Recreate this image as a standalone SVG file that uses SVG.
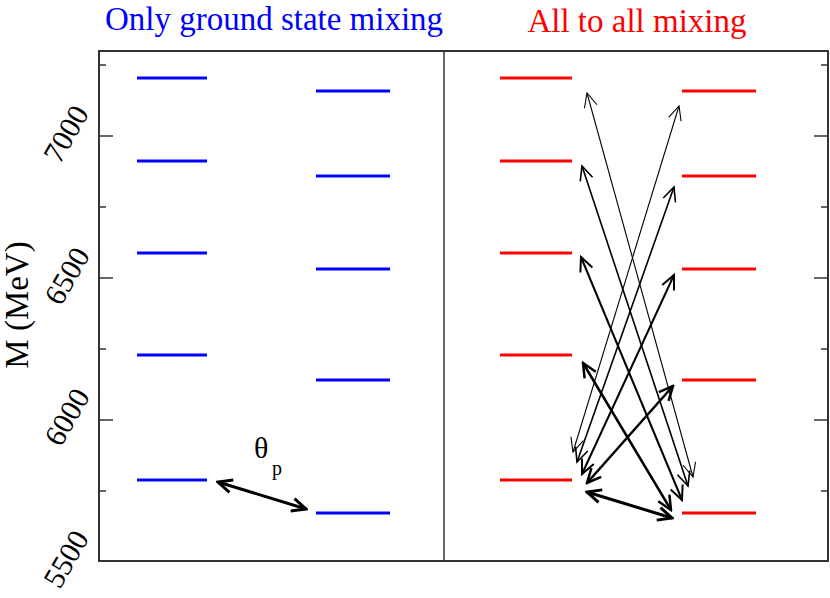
<svg xmlns="http://www.w3.org/2000/svg" width="830" height="598" viewBox="0 0 830 598">
<style>
.title{font-family:"Liberation Serif","Times New Roman",serif;font-size:33px;text-anchor:middle}
.tick{font-family:"Liberation Serif","Times New Roman",serif;font-size:30px;text-anchor:middle;fill:#000}
.frame{fill:none;stroke:#333;stroke-width:2}
.tk{stroke:#333;stroke-width:1.5}
.blue{stroke:#0000ff;stroke-width:3}
.red{stroke:#ff0000;stroke-width:3}
.arr{fill:none;stroke:#000}
</style>
<defs>
<marker id="h30" viewBox="-16 -9 18 18" markerWidth="18" markerHeight="18" refX="0" refY="0" markerUnits="userSpaceOnUse" orient="auto-start-reverse"><path d="M-14,-6.5 L0,0 L-14,6.5" fill="none" stroke="#000" stroke-width="3"/></marker>
<marker id="h25" viewBox="-16 -9 18 18" markerWidth="18" markerHeight="18" refX="0" refY="0" markerUnits="userSpaceOnUse" orient="auto-start-reverse"><path d="M-14,-6.5 L0,0 L-14,6.5" fill="none" stroke="#000" stroke-width="2.5"/></marker>
<marker id="h20" viewBox="-16 -9 18 18" markerWidth="18" markerHeight="18" refX="0" refY="0" markerUnits="userSpaceOnUse" orient="auto-start-reverse"><path d="M-14,-6.5 L0,0 L-14,6.5" fill="none" stroke="#000" stroke-width="2"/></marker>
<marker id="h16" viewBox="-16 -9 18 18" markerWidth="18" markerHeight="18" refX="0" refY="0" markerUnits="userSpaceOnUse" orient="auto-start-reverse"><path d="M-14,-6.5 L0,0 L-14,6.5" fill="none" stroke="#000" stroke-width="1.6"/></marker>
<marker id="h11" viewBox="-16 -9 18 18" markerWidth="18" markerHeight="18" refX="0" refY="0" markerUnits="userSpaceOnUse" orient="auto-start-reverse"><path d="M-14,-6.5 L0,0 L-14,6.5" fill="none" stroke="#000" stroke-width="1.1"/></marker>
</defs>
<rect width="830" height="598" fill="#fff"/>

<g id="titles">
<text class="title" x="274" y="30" fill="#0000ff">Only ground state mixing</text>
<text class="title" x="637" y="32" fill="#ff0000">All to all mixing</text>
</g>

<g id="axes">
<rect class="frame" x="99" y="51" width="729" height="510"/>
<line x1="444" y1="51" x2="444" y2="561" stroke="#333" stroke-width="1.5"/>
<g class="tk">
<line x1="99" y1="65" x2="106" y2="65"/><line x1="99" y1="136" x2="113" y2="136"/>
<line x1="99" y1="207" x2="106" y2="207"/><line x1="99" y1="278" x2="113" y2="278"/>
<line x1="99" y1="349" x2="106" y2="349"/><line x1="99" y1="420" x2="113" y2="420"/>
<line x1="99" y1="491" x2="106" y2="491"/>
<line x1="828" y1="65" x2="821" y2="65"/><line x1="828" y1="136" x2="814" y2="136"/>
<line x1="828" y1="207" x2="821" y2="207"/><line x1="828" y1="278" x2="814" y2="278"/>
<line x1="828" y1="349" x2="821" y2="349"/><line x1="828" y1="420" x2="814" y2="420"/>
<line x1="828" y1="491" x2="821" y2="491"/>
</g>
<text class="tick" transform="translate(66,134) rotate(-60)" y="10">7000</text>
<text class="tick" transform="translate(67,276) rotate(-60)" y="10">6500</text>
<text class="tick" transform="translate(67,417) rotate(-60)" y="10">6000</text>
<text class="tick" transform="translate(66,559) rotate(-60)" y="10">5500</text>
<text transform="translate(28,305) rotate(-90)" font-family="Liberation Serif, Times New Roman, serif" font-size="33" text-anchor="middle">M (MeV)</text>
</g>

<g id="left-levels">
<line class="blue" x1="137" y1="78" x2="207" y2="78"/>
<line class="blue" x1="137" y1="161" x2="207" y2="161"/>
<line class="blue" x1="137" y1="253" x2="207" y2="253"/>
<line class="blue" x1="137" y1="355" x2="207" y2="355"/>
<line class="blue" x1="137" y1="480" x2="207" y2="480"/>
<line class="blue" x1="316" y1="91" x2="390" y2="91"/>
<line class="blue" x1="316" y1="176" x2="390" y2="176"/>
<line class="blue" x1="316" y1="269" x2="390" y2="269"/>
<line class="blue" x1="316" y1="380" x2="390" y2="380"/>
<line class="blue" x1="316" y1="513" x2="390" y2="513"/>
</g>

<g id="right-levels">
<line class="red" x1="500" y1="78" x2="572" y2="78"/>
<line class="red" x1="500" y1="161" x2="572" y2="161"/>
<line class="red" x1="500" y1="253" x2="572" y2="253"/>
<line class="red" x1="500" y1="355" x2="572" y2="355"/>
<line class="red" x1="500" y1="480" x2="572" y2="480"/>
<line class="red" x1="682" y1="91" x2="756" y2="91"/>
<line class="red" x1="682" y1="176" x2="756" y2="176"/>
<line class="red" x1="682" y1="269" x2="756" y2="269"/>
<line class="red" x1="682" y1="380" x2="756" y2="380"/>
<line class="red" x1="682" y1="513" x2="756" y2="513"/>
</g>

<g id="theta-label">
<text x="254" y="458" font-family="Liberation Serif, Times New Roman, serif" font-size="30">θ</text>
<text x="272" y="475" font-family="Liberation Serif, Times New Roman, serif" font-size="20">p</text>
</g>

<g id="connectors">
<line class="arr" x1="218" y1="482" x2="306" y2="509" stroke-width="3" marker-start="url(#h30)" marker-end="url(#h30)"/>
<line class="arr" x1="587" y1="492" x2="672" y2="518" stroke-width="3" marker-start="url(#h30)" marker-end="url(#h30)"/>
<line class="arr" x1="671" y1="510" x2="583" y2="363" stroke-width="2.5" marker-start="url(#h25)" marker-end="url(#h25)"/>
<line class="arr" x1="682" y1="500" x2="581" y2="257" stroke-width="2" marker-start="url(#h20)" marker-end="url(#h20)"/>
<line class="arr" x1="688" y1="486" x2="582" y2="166" stroke-width="1.6" marker-start="url(#h16)" marker-end="url(#h16)"/>
<line class="arr" x1="693" y1="477" x2="587" y2="93" stroke-width="1.1" marker-start="url(#h11)" marker-end="url(#h11)"/>
<line class="arr" x1="587" y1="483" x2="673" y2="386" stroke-width="2.5" marker-start="url(#h25)" marker-end="url(#h25)"/>
<line class="arr" x1="582" y1="474" x2="674" y2="275" stroke-width="2" marker-start="url(#h20)" marker-end="url(#h20)"/>
<line class="arr" x1="577" y1="462" x2="674" y2="187" stroke-width="1.6" marker-start="url(#h16)" marker-end="url(#h16)"/>
<line class="arr" x1="573" y1="452" x2="679" y2="106" stroke-width="1.1" marker-start="url(#h11)" marker-end="url(#h11)"/>
</g>
</svg>
